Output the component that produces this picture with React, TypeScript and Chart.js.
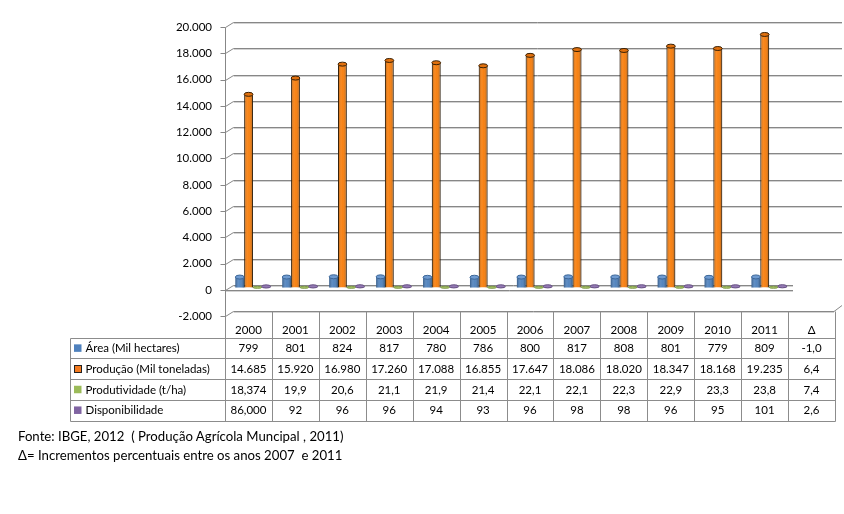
import React, { useEffect, useRef } from "react";
import { Chart, registerables } from "chart.js";

Chart.register(...registerables);

// ---------------- data ----------------
const yearLabels = ["2000", "2001", "2002", "2003", "2004", "2005", "2006", "2007", "2008", "2009", "2010", "2011"];
const deltaHeader = "Δ";
const seriesNames = ["Área (Mil hectares)", "Produção (Mil toneladas)", "Produtividade (t/ha)", "Disponibilidade"];
const areaValues = ["799", "801", "824", "817", "780", "786", "800", "817", "808", "801", "779", "809"];
const producaoValues = ["14.685", "15.920", "16.980", "17.260", "17.088", "16.855", "17.647", "18.086", "18.020", "18.347", "18.168", "19.235"];
const produtividadeValues = ["18,374", "19,9", "20,6", "21,1", "21,9", "21,4", "22,1", "22,1", "22,3", "22,9", "23,3", "23,8"];
const disponibilidadeValues = ["86,000", "92", "96", "96", "94", "93", "96", "98", "98", "96", "95", "101"];
const deltaValues = ["-1,0", "6,4", "7,4", "2,6"];
const yMin = -2000;
const yMax = 20000;
const yStep = 2000;
const footnotes = [
  "Fonte: IBGE, 2012  ( Produção Agrícola Muncipal , 2011)",
  "Δ= Incrementos percentuais entre os anos 2007  e 2011",
];

// ---------------- styles ----------------
const FONT = "Lato";
const seriesRows = [areaValues, producaoValues, produtividadeValues, disponibilidadeValues];
const barStyles = [
  { fill: "#4A7EBB", edge: "#3C6697", top: "#6F9BD1", ry: 2, border: 0, key: "#4F81BD", keyBorder: "" },
  { fill: "#F77A05", edge: "#3A2105", top: "#E0700E", ry: 2, border: 1, key: "#F47B20", keyBorder: "#222" },
  { fill: "#9BBB59", edge: "#7F9A48", top: "#A9C56B", ry: 1, border: 0, key: "#9BBB59", keyBorder: "" },
  { fill: "#8064A2", edge: "#664F83", top: "#9379B3", ry: 1.6, border: 0, key: "#8064A2", keyBorder: "" },
];
const SHIFT_X = 4.5; // bars sit at mid depth, table/front axis are at the front
const LABEL_DY = 2.5;
const BACK_DX = 8;
const BACK_DY = 5;
const GRID = "#878787";
const GRID_SHADOW = "#d2d2d2";
const TABLE_LINE = "#8c8c8c";

const toNumber = (s: string) => Number(s.replace(/\./g, "").replace(",", "."));
const fmtTick = (n: number) => {
  const s = Math.abs(n).toString().replace(/\B(?=(\d{3})+(?!\d))/g, ".");
  return (n < 0 ? "-" : "") + s;
};
const px = (v: number) => Math.round(v) + 0.5;

function line(ctx: CanvasRenderingContext2D, x1: number, y1: number, x2: number, y2: number, color: string) {
  ctx.strokeStyle = color;
  ctx.beginPath();
  ctx.moveTo(x1, y1);
  ctx.lineTo(x2, y2);
  ctx.stroke();
}

const wallPlugin = {
  id: "wall3d",
  beforeDatasetsDraw(chart: any) {
    const { ctx, scales } = chart;
    const x = scales.x;
    const y = scales.y;
    const frontX = px(x.left - SHIFT_X);
    const floorRight = 793;
    const wallRight = 842;
    ctx.save();
    ctx.lineWidth = 1;
    y.ticks.forEach((t: any) => {
      const v = t.value;
      const fy = px(y.getPixelForValue(v) + LABEL_DY);
      const by = fy - BACK_DY;
      const right = v === 0 ? floorRight : v === yMin ? wallRight - 8 : wallRight;
      line(ctx, frontX + BACK_DX, by + 1, right, by + 1, GRID_SHADOW);
      line(ctx, frontX - 5, fy, frontX, fy, GRID);
      line(ctx, frontX, fy, frontX + BACK_DX, by, GRID);
      line(ctx, frontX + BACK_DX, by, right, by, GRID);
      if (v === 0) {
        line(ctx, frontX, fy + 1, floorRight, fy + 1, GRID_SHADOW);
        line(ctx, frontX, fy, floorRight, fy, GRID);
      }
      if (v === yMin) {
        line(ctx, right, by, right + 8, by - 6, GRID);
      }
    });
    const topY = px(y.getPixelForValue(yMax) + LABEL_DY);
    line(ctx, frontX, topY, frontX, 421, GRID);
    ctx.restore();
  },
  afterDatasetsDraw(chart: any) {
    const ctx = chart.ctx;
    ctx.save();
    chart.data.datasets.forEach((ds: any, di: number) => {
      const meta = chart.getDatasetMeta(di);
      const st = barStyles[di];
      meta.data.forEach((el: any, i: number) => {
        if (ds.data[i] == null) return;
        const { x, y, base, width } = el.getProps(["x", "y", "base", "width"], true);
        const l = x - width / 2;
        const r = x + width / 2;
        const top = Math.min(y, base);
        const bot = Math.max(y, base);
        const g = ctx.createLinearGradient(l, 0, r, 0);
        g.addColorStop(0, "rgba(0,0,0,0.28)");
        g.addColorStop(0.35, "rgba(255,255,255,0.12)");
        g.addColorStop(0.55, "rgba(255,255,255,0.06)");
        g.addColorStop(1, "rgba(0,0,0,0.32)");
        ctx.fillStyle = g;
        ctx.fillRect(l, top, width, bot - top);
        ctx.beginPath();
        ctx.ellipse(x, top, width / 2, st.ry, 0, 0, Math.PI * 2);
        ctx.fillStyle = st.top;
        ctx.fill();
        ctx.lineWidth = 1;
        ctx.strokeStyle = st.edge;
        ctx.stroke();
      });
    });
    ctx.restore();
  },
  afterDraw(chart: any) {
    const { ctx, scales } = chart;
    const x = scales.x;
    const y = scales.y;
    const catW = x.getPixelForValue(1) - x.getPixelForValue(0);
    const nCols = yearLabels.length + 1;
    const bounds: number[] = [];
    for (let i = 0; i < nCols; i++) bounds.push(x.getPixelForValue(i) - catW / 2 - SHIFT_X);
    bounds.push(bounds[nCols - 1] + catW);
    const tableTop = y.getPixelForValue(yMin) + LABEL_DY - BACK_DY;
    const rowLines = [337.7, 358.4, 379.1, 399.8, 420.5];
    const legendLeft = 70;
    const tableRight = bounds[bounds.length - 1];

    ctx.save();
    ctx.lineWidth = 1;
    bounds.forEach((b) => line(ctx, px(b), px(tableTop), px(b), px(rowLines[4]), TABLE_LINE));
    line(ctx, px(legendLeft), px(rowLines[0]), px(legendLeft), px(rowLines[4]), TABLE_LINE);
    rowLines.forEach((ry) => line(ctx, px(legendLeft), px(ry), px(tableRight), px(ry), TABLE_LINE));

    ctx.font = `11.5px ${FONT}`;
    ctx.fillStyle = "#000";
    ctx.textBaseline = "alphabetic";
    ctx.textAlign = "center";
    const headers = [...yearLabels, deltaHeader];
    headers.forEach((h, i) => ctx.fillText(h, (bounds[i] + bounds[i + 1]) / 2, 334.3));
    seriesRows.forEach((row, r) => {
      const mid = (rowLines[r] + rowLines[r + 1]) / 2;
      const base = mid + 4.1;
      const cells = [...row, deltaValues[r]];
      ctx.textAlign = "center";
      ctx.fillStyle = "#000";
      cells.forEach((c, i) => ctx.fillText(c, (bounds[i] + bounds[i + 1]) / 2, base));
      const st = barStyles[r];
      ctx.fillStyle = st.key;
      ctx.fillRect(74, mid - 3.7, 7.5, 7.5);
      if (st.keyBorder) {
        ctx.strokeStyle = st.keyBorder;
        ctx.strokeRect(74.5, Math.round(mid - 3.7) + 0.5, 7, 7);
      }
      ctx.fillStyle = "#000";
      ctx.textAlign = "left";
      ctx.fillText(seriesNames[r], 85.5, base);
    });
    ctx.restore();
  },
};

export default function App() {
  const canvasRef = useRef<HTMLCanvasElement | null>(null);

  useEffect(() => {
    if (!canvasRef.current) return;
    const labels = [...yearLabels, deltaHeader];
    const chart = new Chart(canvasRef.current, {
      type: "bar",
      data: {
        labels,
        datasets: seriesRows.map((row, i) => ({
          label: seriesNames[i],
          data: [...row.map(toNumber), null],
          backgroundColor: barStyles[i].fill,
          borderColor: barStyles[i].edge,
          borderWidth: barStyles[i].border,
          categoryPercentage: 0.75,
          barPercentage: 1,
        })),
      },
      options: {
        responsive: false,
        animation: false,
        events: [],
        layout: { padding: { top: 15.8, bottom: 200.1, left: 0, right: 4.5 } },
        plugins: { legend: { display: false }, tooltip: { enabled: false } },
        scales: {
          x: { display: false, offset: true },
          y: {
            min: yMin,
            max: yMax,
            border: { display: false },
            grid: { display: false, drawTicks: false },
            ticks: {
              stepSize: yStep,
              padding: 17.5,
              labelOffset: LABEL_DY,
              color: "#000",
              font: { family: FONT, size: 11.5 },
              callback: (v: any) => fmtTick(Number(v)),
            },
            afterFit: (s: any) => {
              s.width = 229.5;
            },
          },
        },
      },
      plugins: [wallPlugin],
    } as any);
    return () => chart.destroy();
  }, []);

  return (
    <div style={{ position: "absolute", left: 0, top: 0, width: 844, height: 514, background: "#fff" }}>
      <canvas ref={canvasRef} width={844} height={514} style={{ display: "block", width: 844, height: 514 }} />
      <div
        style={{
          position: "absolute",
          left: 18,
          top: 427,
          fontFamily: FONT,
          fontSize: 13.2,
          lineHeight: "18.5px",
          color: "#000",
          whiteSpace: "pre",
        }}
      >
        <div>{footnotes[0]}</div>
        <div>{footnotes[1]}</div>
      </div>
    </div>
  );
}
